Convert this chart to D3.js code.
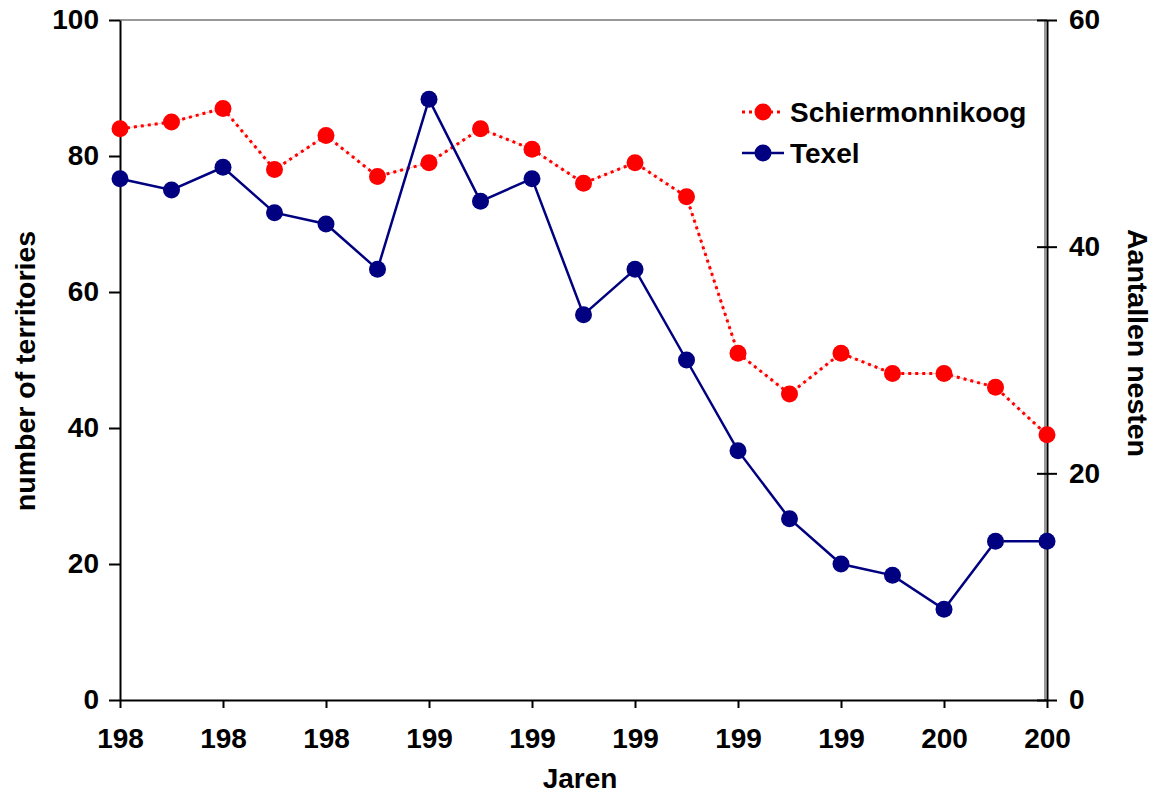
<!DOCTYPE html>
<html>
<head>
<meta charset="utf-8">
<script src="https://d3js.org/d3.v7.min.js"></script>
<style>
  body { margin: 0; background: #fff; }
  text { font-family: 'Liberation Sans', Arial, sans-serif; font-weight: bold; fill: #000; }
  .axis path, .axis line { stroke: #000; stroke-width: 2; }
</style>
</head>
<body>
<script>
// data
var years = d3.range(1984, 2003);
var schiermonnikoog = [84, 85, 87, 78, 83, 77, 79, 84, 81, 76, 79, 74, 51, 45, 51, 48, 48, 46, 39];
var texel = [46, 45, 47, 43, 42, 38, 53, 44, 46, 34, 38, 30, 22, 16, 12, 11, 8, 14, 14];
var xTickYears = [1984, 1986, 1988, 1990, 1992, 1994, 1996, 1998, 2000, 2002];
var xTickLabels = ['198', '198', '198', '199', '199', '199', '199', '199', '200', '200'];
var leftTicks = [0, 20, 40, 60, 80, 100];
var rightTicks = [0, 20, 40, 60];

var W = 1155, H = 796;
var m = { top: 20, right: 108, bottom: 96, left: 120 };

var svg = d3.select('body').append('svg')
  .attr('width', W)
  .attr('height', H);

var x = d3.scaleLinear().domain([1984, 2002]).range([m.left, W - m.right]);
var yL = d3.scaleLinear().domain([0, 100]).range([H - m.bottom, m.top]);
var yR = d3.scaleLinear().domain([0, 60]).range([H - m.bottom, m.top]);

// plot border (top + right, grey)
svg.append('line')
  .attr('x1', x(1984)).attr('x2', x(2002))
  .attr('y1', yL(100)).attr('y2', yL(100))
  .attr('stroke', '#999').attr('stroke-width', 2);
svg.append('line')
  .attr('x1', x(2002) - 2).attr('x2', x(2002) - 2)
  .attr('y1', yL(100)).attr('y2', yL(0))
  .attr('stroke', '#999').attr('stroke-width', 2);

// x axis
var xAxis = svg.append('g')
  .attr('class', 'axis')
  .attr('transform', `translate(0, ${yL(0)})`)
  .call(d3.axisBottom(x)
    .tickValues(xTickYears)
    .tickFormat((d, i) => xTickLabels[i])
    .tickSize(8)
    .tickSizeOuter(0)
    .tickPadding(20));
xAxis.selectAll('text').style('font-size', '28px');

// left axis
var lAxis = svg.append('g')
  .attr('class', 'axis')
  .attr('transform', `translate(${m.left}, 0)`)
  .call(d3.axisLeft(yL)
    .tickValues(leftTicks)
    .tickSize(11)
    .tickSizeOuter(0)
    .tickPadding(10));
lAxis.selectAll('text').style('font-size', '28px');

// right axis (ticks cross the line)
var rAxis = svg.append('g')
  .attr('class', 'axis')
  .attr('transform', `translate(${x(2002)}, 0)`)
  .call(d3.axisRight(yR)
    .tickValues(rightTicks)
    .tickSize(10)
    .tickSizeOuter(0)
    .tickPadding(12));
rAxis.selectAll('.tick line').attr('x1', -10);
rAxis.selectAll('text').style('font-size', '28px');

// axis titles
svg.append('text')
  .attr('transform', `translate(35, ${(yL(0) + yL(100)) / 2 + 11}) rotate(-90)`)
  .attr('text-anchor', 'middle')
  .style('font-size', '28.5px')
  .text('number of territories');

svg.append('text')
  .attr('transform', `translate(1128, ${(yL(0) + yL(100)) / 2 - 17}) rotate(90)`)
  .attr('text-anchor', 'middle')
  .style('font-size', '28.5px')
  .text('Aantallen nesten');

svg.append('text')
  .attr('x', 580)
  .attr('y', 788)
  .attr('text-anchor', 'middle')
  .style('font-size', '28px')
  .text('Jaren');

// Schiermonnikoog (left axis)
var redLine = d3.line().x((d, i) => x(years[i])).y(d => yL(d));
svg.append('path')
  .datum(schiermonnikoog)
  .attr('d', redLine)
  .attr('fill', 'none')
  .attr('stroke', '#ffc0c0')
  .attr('stroke-width', 1);
svg.append('path')
  .datum(schiermonnikoog)
  .attr('d', redLine)
  .attr('fill', 'none')
  .attr('stroke', '#ff0000')
  .attr('stroke-width', 3)
  .attr('stroke-dasharray', '3,4');
svg.selectAll('.red-dot')
  .data(schiermonnikoog)
  .enter().append('circle')
  .attr('class', 'red-dot')
  .attr('cx', (d, i) => x(years[i]))
  .attr('cy', d => yL(d))
  .attr('r', 8.5)
  .attr('fill', '#ff0000');

// Texel (right axis)
var blueLine = d3.line().x((d, i) => x(years[i])).y(d => yR(d));
svg.append('path')
  .datum(texel)
  .attr('d', blueLine)
  .attr('fill', 'none')
  .attr('stroke', '#000080')
  .attr('stroke-width', 2.5);
svg.selectAll('.blue-dot')
  .data(texel)
  .enter().append('circle')
  .attr('class', 'blue-dot')
  .attr('cx', (d, i) => x(years[i]))
  .attr('cy', d => yR(d))
  .attr('r', 8.5)
  .attr('fill', '#000080');

// legend
var legend = svg.append('g').attr('transform', 'translate(742, 112)');
legend.append('line')
  .attr('x1', 0).attr('x2', 42).attr('y1', 0).attr('y2', 0)
  .attr('stroke', '#ff0000').attr('stroke-width', 3).attr('stroke-dasharray', '3,4');
legend.append('circle').attr('cx', 21).attr('cy', 0).attr('r', 8.5).attr('fill', '#ff0000');
legend.append('text').attr('x', 48).attr('y', 10).style('font-size', '28px').text('Schiermonnikoog');

legend.append('line')
  .attr('x1', 0).attr('x2', 42).attr('y1', 41).attr('y2', 41)
  .attr('stroke', '#000080').attr('stroke-width', 2.5);
legend.append('circle').attr('cx', 21).attr('cy', 41).attr('r', 8.5).attr('fill', '#000080');
legend.append('text').attr('x', 48).attr('y', 51).style('font-size', '28px').text('Texel');
</script>
</body>
</html>
